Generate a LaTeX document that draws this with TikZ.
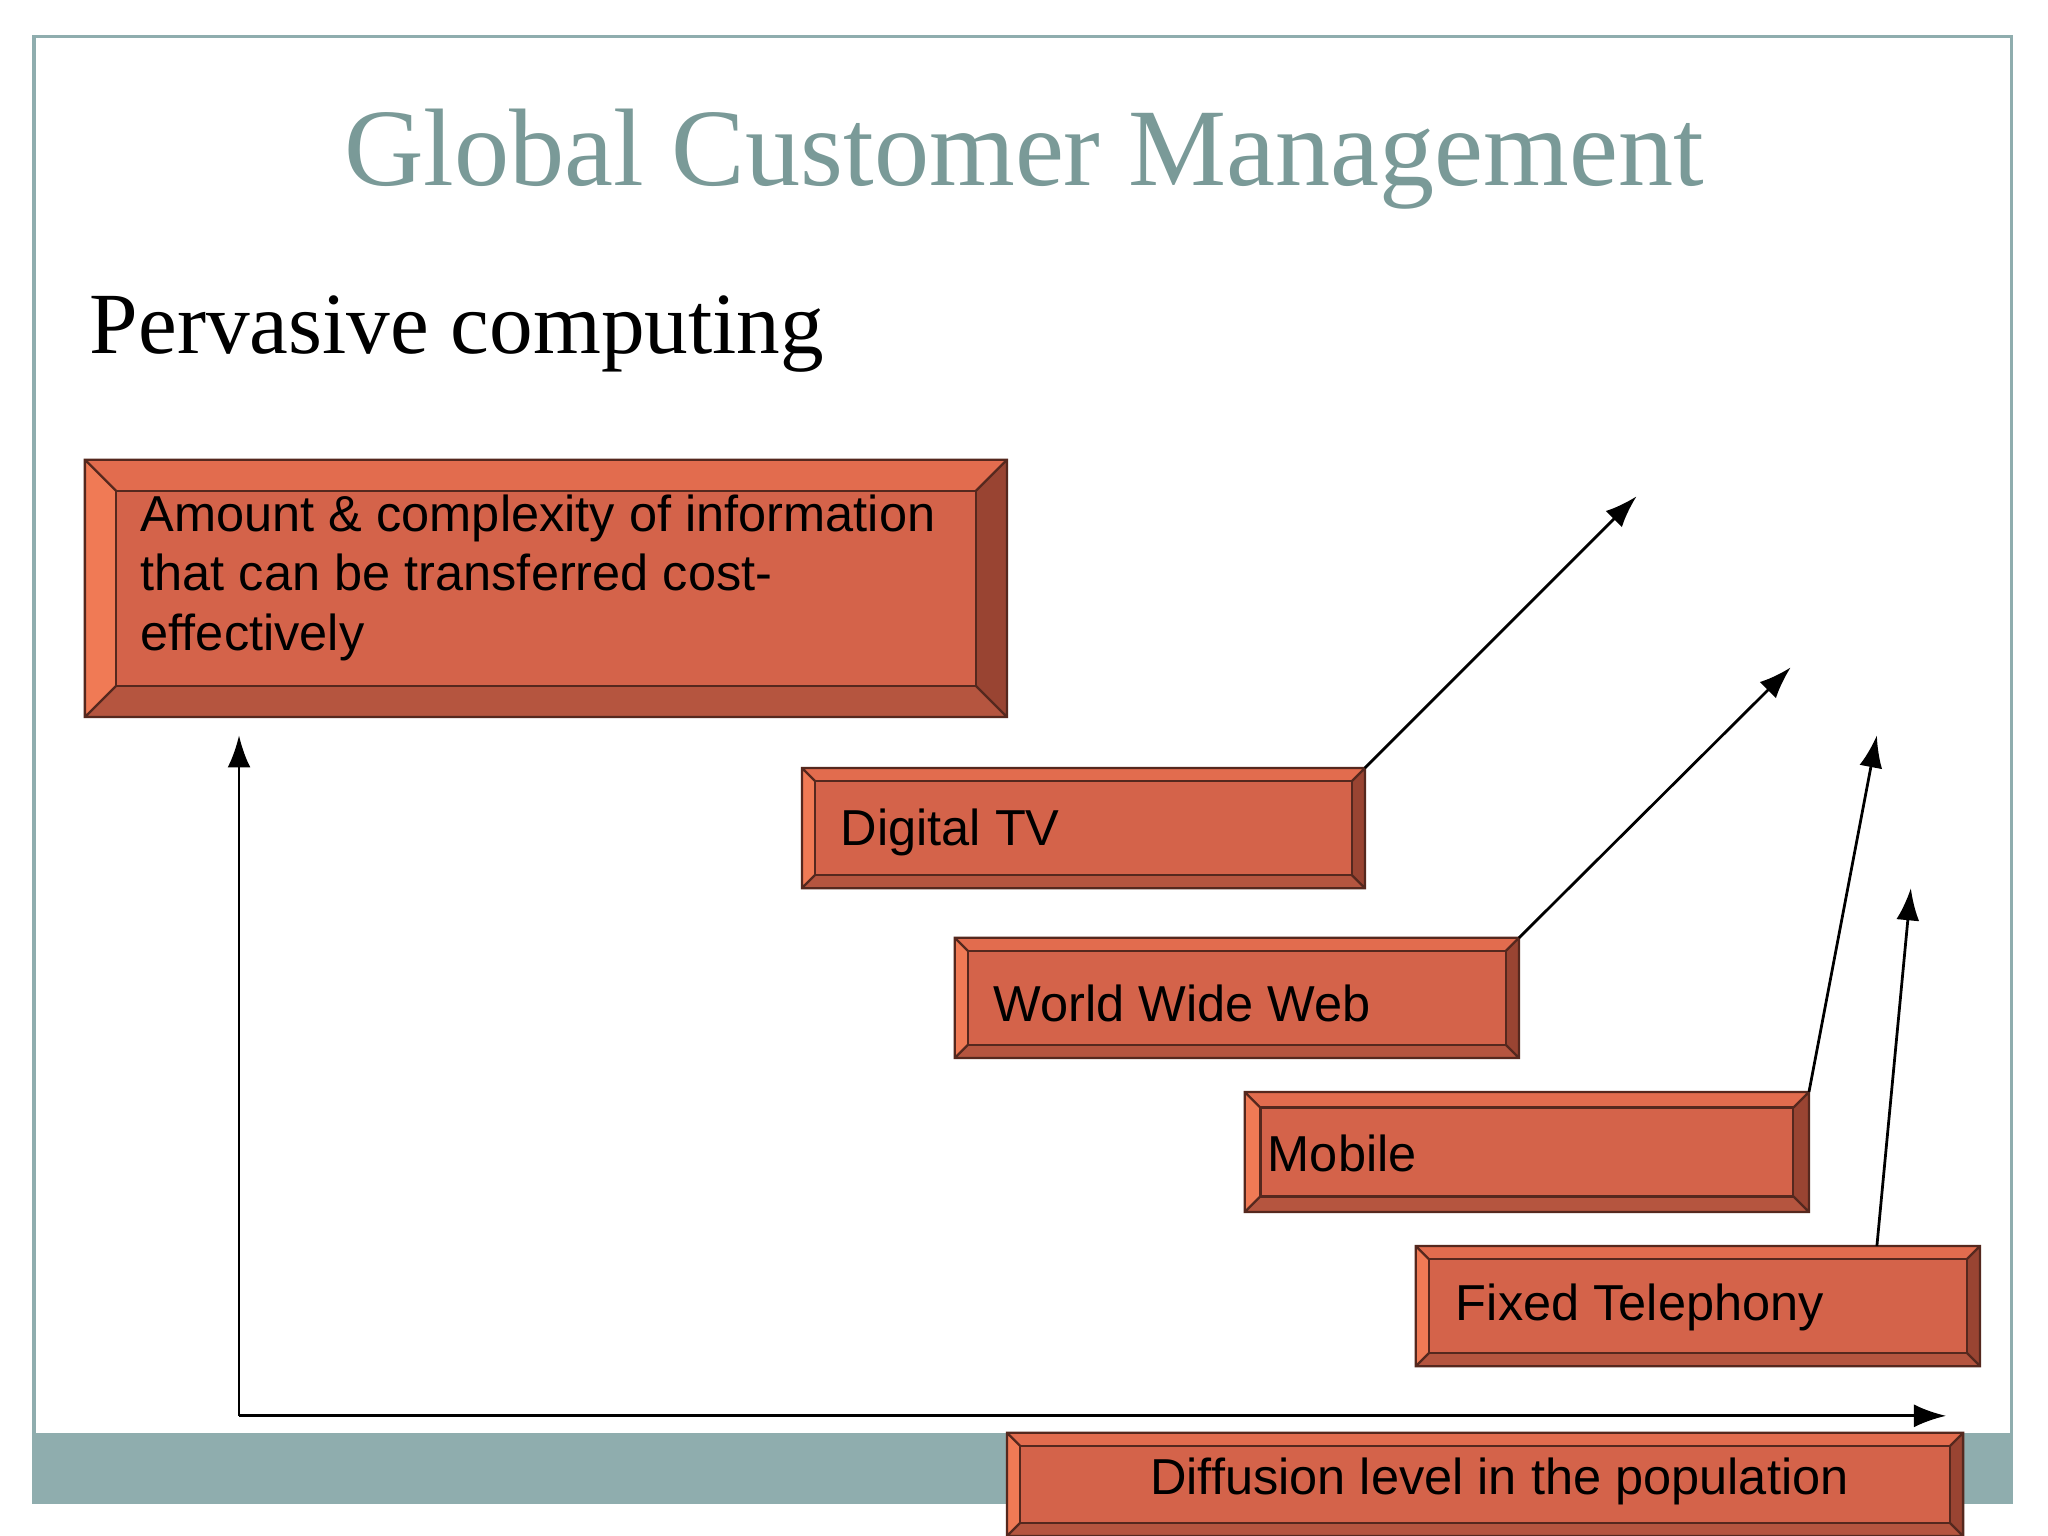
\documentclass[tikz,border=0pt]{standalone}
\usepackage{fontspec}
\setmainfont{Liberation Serif}
\newfontfamily\boxfont{Liberation Sans}
\usetikzlibrary{arrows.meta}

\definecolor{faceC}{HTML}{D4634A}
\definecolor{leftC}{HTML}{F07A55}
\definecolor{topC}{HTML}{E26C4E}
\definecolor{rightC}{HTML}{994432}
\definecolor{botC}{HTML}{B5553F}
\definecolor{titleC}{HTML}{7A9A98}
\definecolor{bandC}{HTML}{8FADAE}

% bevelled box: name, x1, y1, x2, y2, inset
\newcommand{\bevbox}[6]{%
  \coordinate (#1-nw) at (#2,#3);
  \coordinate (#1-ne) at (#4,#3);
  \coordinate (#1-se) at (#4,#5);
  \coordinate (#1-sw) at (#2,#5);
  \fill[topC] (#2,#3) -- (#4,#3) -- (#4-#6,#3+#6) -- (#2+#6,#3+#6) -- cycle;
  \fill[leftC] (#2,#3) -- (#2+#6,#3+#6) -- (#2+#6,#5-#6) -- (#2,#5) -- cycle;
  \fill[rightC] (#4,#3) -- (#4,#5) -- (#4-#6,#5-#6) -- (#4-#6,#3+#6) -- cycle;
  \fill[botC] (#2,#5) -- (#4,#5) -- (#4-#6,#5-#6) -- (#2+#6,#5-#6) -- cycle;
  \draw[faceC!40!black, line width=0.5pt, fill=faceC] (#2+#6,#3+#6) rectangle (#4-#6,#5-#6);
  \draw[faceC!40!black, line width=0.5pt] (#2,#3) rectangle (#4,#5)
    (#2,#3) -- (#2+#6,#3+#6) (#4,#3) -- (#4-#6,#3+#6)
    (#2,#5) -- (#2+#6,#5-#6) (#4,#5) -- (#4-#6,#5-#6);
}

\tikzset{
  lbl/.style={font=\boxfont\fontsize{11}{14}\selectfont, anchor=west, inner sep=0pt, align=left},
  axis/.style={-{Latex[length=7pt,width=5pt]}, line width=0.6pt},
}

\begin{document}
\begin{tikzpicture}[x=0.01cm, y=-0.01cm]
  \useasboundingbox (0,0) rectangle (1568,1176);
  \fill[white] (0,0) rectangle (1568,1176);

  % frame and band
  \fill[bandC] (26,1097) rectangle (1540,1150);
  \draw[bandC, line width=0.8pt] (26,28) rectangle (1540,1150);

  % titles
  \node[text=titleC, font=\fontsize{24}{28}\selectfont] (title) at (784,122) {Global Customer Management};
  \node[anchor=west, font=\fontsize{19}{22}\selectfont, inner sep=0pt] (sub) at (68,256) {Pervasive computing};

  % boxes
  \bevbox{amt}{65}{352}{771}{549}{24}
  \bevbox{tv}{614}{588}{1045}{680}{10}
  \bevbox{www}{731}{718}{1163}{810}{10}
  \bevbox{mob}{953}{836}{1385}{928}{12}
  \bevbox{fix}{1084}{954}{1516}{1046}{10}
  \bevbox{dif}{771}{1097}{1503}{1176}{10}

  \node[lbl, anchor=north west] (amtT) at (107,378) {Amount \& complexity of information\\[-1pt]that can be transferred cost-\\[-1pt]effectively};
  \node[lbl] (tvT) at (643,637) {Digital TV};
  \node[lbl] (wwwT) at (760,768) {World Wide Web};
  \node[lbl] (mobT) at (970,883) {Mobile};
  \node[lbl] (fixT) at (1114,1001) {Fixed Telephony};
  \node[lbl, anchor=center] (difT) at (1148,1134) {Diffusion level in the population};

  % axes
  \coordinate (orig) at (183,1084);
  \coordinate (yend) at (183,563);
  \coordinate (xend) at (1490,1084);
  \draw[axis] (orig) -- (yend);
  \draw[axis] (orig) -- (xend);

  % growth arrows
  \coordinate (tvA) at (1253,380);
  \coordinate (wwwA) at (1371,511);
  \coordinate (mobA) at (1437,563);
  \coordinate (fixS) at (1437,954);
  \coordinate (fixA) at (1463,680);
  \draw[axis] (tv-ne) -- (tvA);
  \draw[axis] (www-ne) -- (wwwA);
  \draw[axis] (mob-ne) -- (mobA);
  \draw[axis] (fixS) -- (fixA);
\end{tikzpicture}
\end{document}
